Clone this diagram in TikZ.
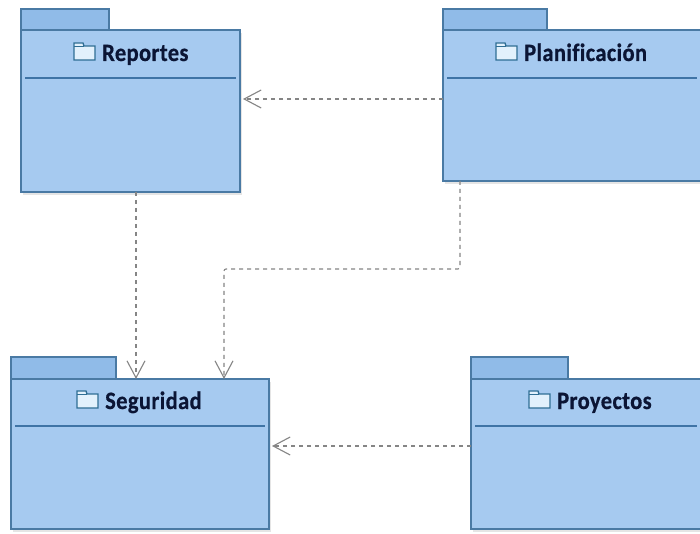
\documentclass[tikz,border=0pt]{standalone}
\usepackage{fontspec}
\setmainfont[Ligatures=NoCommon,BoldFeatures={FakeStretch=0.9,FakeBold=0.6,LetterSpace=1.5}]{Carlito}
\usetikzlibrary{arrows.meta,positioning,shadows}
\definecolor{pkgbody}{HTML}{A6CAF0}
\definecolor{pkgtab}{HTML}{90BBE8}
\definecolor{pkgedge}{HTML}{4A7AA4}
\definecolor{pkgsep}{HTML}{3F74A6}
\definecolor{iconedge}{HTML}{2F6E94}
\definecolor{iconfill}{HTML}{E2F1FC}
\definecolor{pkgtext}{HTML}{0B1535}
\definecolor{deparrow}{HTML}{858585}
\tikzset{
  x=1pt,y=-1pt,
  pkgshape/.style={draw=pkgedge,line width=1.5pt,inner sep=0pt,outer sep=0pt,anchor=north west},
  bodybox/.style={pkgshape,fill=pkgbody,drop shadow={shadow xshift=2pt,shadow yshift=-3pt,fill=black,opacity=.10}},
  tabbox/.style={pkgshape,fill=pkgtab},
  seprule/.style={draw=pkgsep,line width=1.3pt},
  pkglabel/.style={text=pkgtext,font=\bfseries\fontsize{25}{25}\selectfont,anchor=base west,inner sep=0pt},
  depline/.style={draw=deparrow,line width=1.1pt,dash pattern=on 4pt off 4pt,-{Straight Barb[length=17pt,width=18pt,line width=1.1pt]}},
  pics/foldericon/.style={code={
    \draw[iconedge,line width=1.3pt,fill=iconfill] (0,-17) -- (9,-17) -- (10,-14) -- (21,-14) -- (21,0) -- (0,0) -- cycle;
    \draw[iconedge,line width=.9pt] (0,-14) -- (10,-14);
  }}
}
\begin{document}
\begin{tikzpicture}
\useasboundingbox (0,0) rectangle (700,534);
\fill[white] (0,0) rectangle (700,534);

% tabs
\node[tabbox,minimum width=88pt,minimum height=21pt] (reptab) at (21,9) {};
\node[tabbox,minimum width=104pt,minimum height=21pt] (platab) at (443,9) {};
\node[tabbox,minimum width=105pt,minimum height=22pt] (segtab) at (11,357) {};
\node[tabbox,minimum width=97pt,minimum height=22pt] (protab) at (471,357) {};

% bodies
\node[bodybox,minimum width=219pt,minimum height=162pt] (rep) at (21,30) {};
\node[bodybox,minimum width=258pt,minimum height=151pt] (pla) at (443,30) {};
\node[bodybox,minimum width=258pt,minimum height=150pt] (seg) at (11,379) {};
\node[bodybox,minimum width=230pt,minimum height=150pt] (pro) at (471,379) {};

% separators
\coordinate (repsep) at (0,78);
\coordinate (plasep) at (0,78);
\coordinate (segsep) at (0,426);
\coordinate (prosep) at (0,426);
\draw[seprule] ([xshift=4pt]rep.west |- repsep) -- ([xshift=-4pt]rep.east |- repsep);
\draw[seprule] ([xshift=4pt]pla.west |- plasep) -- ([xshift=-4pt]pla.east |- plasep);
\draw[seprule] ([xshift=4pt]seg.west |- segsep) -- ([xshift=-4pt]seg.east |- segsep);
\draw[seprule] ([xshift=4pt]pro.west |- prosep) -- ([xshift=-4pt]pro.east |- prosep);

% icons and labels
\pic at (74,60) {foldericon};
\node[pkglabel] (replabel) at (102,61) {Reportes};
\pic at (496,60) {foldericon};
\node[pkglabel] (plalabel) at (524,61) {Planificación};
\pic at (77,408) {foldericon};
\node[pkglabel] (seglabel) at (105,409) {Seguridad};
\pic at (529,408) {foldericon};
\node[pkglabel] (prolabel) at (557,409) {Proyectos};

% connectors
\coordinate (ypr) at (0,99);
\coordinate (xrs) at (136,0);
\coordinate (xps) at (460,0);
\coordinate (xpt) at (224,0);
\coordinate (ybend) at (0,269);
\coordinate (yps) at (0,446);
\draw[depline,shorten >=3pt] (pla.west |- ypr) -- (rep.east |- ypr);
\draw[depline] (xrs |- rep.south) -- (xrs |- seg.north);
\draw[depline,rounded corners=2pt] (xps |- pla.south) -- (xps |- ybend) -- (xpt |- ybend) -- (xpt |- seg.north);
\draw[depline,shorten >=3pt] (pro.west |- yps) -- (seg.east |- yps);
\end{tikzpicture}
\end{document}
